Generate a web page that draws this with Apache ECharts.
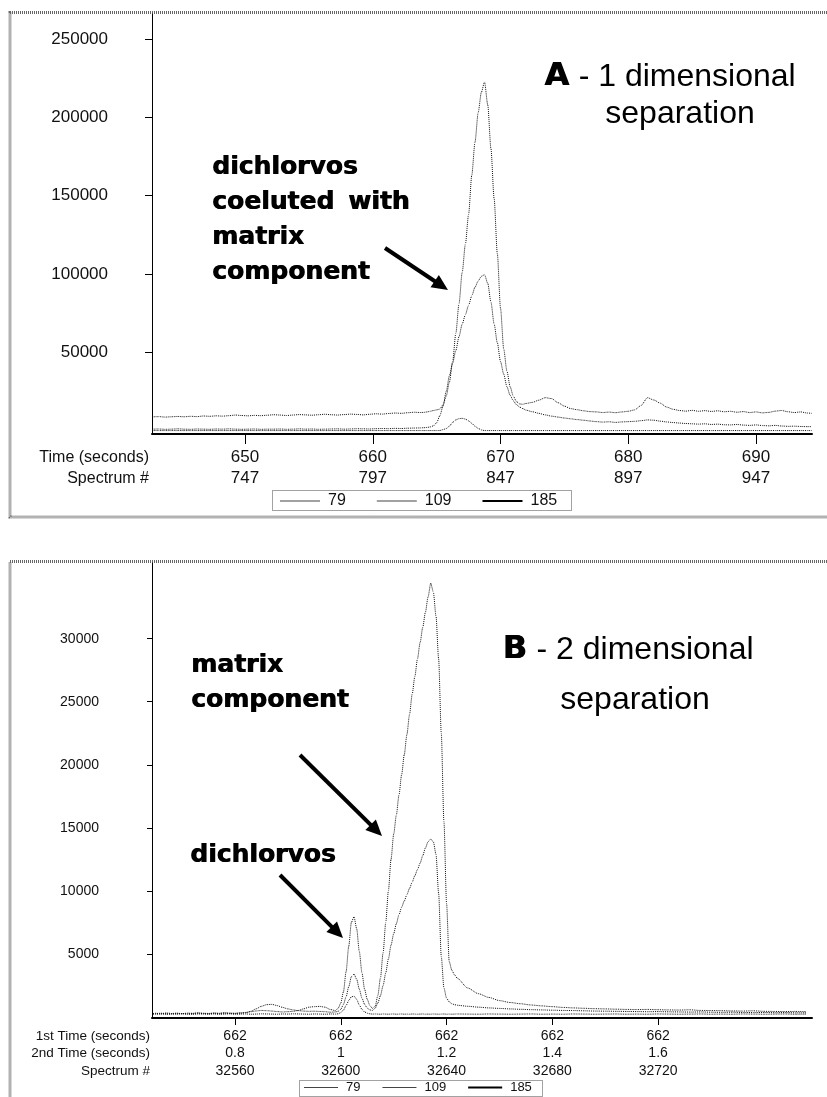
<!DOCTYPE html>
<html>
<head>
<meta charset="utf-8">
<script src="https://cdn.jsdelivr.net/npm/echarts@6/dist/echarts.min.js"></script>
<style>
  html, body { margin: 0; padding: 0; background: #fff; }
  #chart { width: 827px; height: 1097px; }
</style>
</head>
<body>
<div id="chart"></div>
<script>
// ---------- Panel A: 1 dimensional separation (ion chromatograms vs time) ----------
const seriesNames = ['79', '109', '185'];

const aTimeTicks = [650, 660, 670, 680, 690];
const aSpectrumTicks = [747, 797, 847, 897, 947];
const aIntensityTicks = [50000, 100000, 150000, 200000, 250000];

// retention time (s)
const aTime = [
  642.75, 643.25, 643.75, 644.25, 644.75, 645.25, 645.75, 646.25, 646.75, 647.25,
  647.75, 648.25, 648.75, 649.25, 649.75, 650.25, 650.75, 651.25, 651.75, 652.25,
  652.75, 653.25, 653.75, 654.25, 654.75, 655.25, 655.75, 656.25, 656.75, 657.25,
  657.75, 658.25, 658.75, 659.25, 659.75, 660.25, 660.75, 661.25, 661.75, 662.25,
  662.75, 663.25, 663.75,
  664.0, 664.25, 664.5, 664.75, 665.0, 665.25, 665.5, 665.75, 666.0, 666.25,
  666.5, 666.75, 667.0, 667.25, 667.5, 667.75, 668.0, 668.25, 668.5, 668.75,
  669.0, 669.25, 669.5, 669.75, 670.0, 670.25, 670.5, 670.75, 671.0, 671.25,
  671.5, 671.75, 672.0,
  672.5, 673.0, 673.5, 674.0, 674.5, 675.0, 675.5, 676.0, 676.5, 677.0,
  677.5, 678.0, 678.5, 679.0, 679.5, 680.0, 680.5, 681.0, 681.5, 682.0,
  682.5, 683.0, 683.5, 684.0, 684.5, 685.0, 685.5, 686.0, 686.5, 687.0,
  687.5, 688.0, 688.5, 689.0, 689.5, 690.0, 690.5, 691.0, 691.5, 692.0,
  692.5, 693.0, 693.5, 694.0, 694.35
];

const aIon109 = [
  8700, 8900, 8600, 8800, 9000, 8800, 9100, 8900, 9300, 9100,
  9400, 9200, 9500, 9900, 9600, 9400, 9700, 9500, 9800, 10100,
  9900, 9600, 9900, 10200, 10000, 9800, 10100, 10400, 10100, 9900,
  10200, 10500, 10300, 10000, 10400, 10700, 10500, 10900, 11200, 11000,
  11400, 11700, 11500,
  11600, 11900, 12300, 12800, 13200, 13700, 16500, 22000, 31000, 44000,
  62000, 81000, 101000, 119000, 138000, 163000, 184000, 203000, 216000, 222600,
  208000, 180000, 148000, 113000, 78000, 52000, 38000, 28000, 22000, 18500,
  17000, 16800, 17300,
  18000, 19400, 21000, 20400, 17800, 15600, 14000, 13300, 12600, 12100,
  11900, 11500, 11800, 11400, 11900, 12300, 13200, 16000, 21000, 19500,
  17500, 15000, 13600, 12800, 12400, 12900, 12300, 12700, 12200, 12600,
  12000, 12300, 11700, 12100, 11500, 11900, 11300, 11600, 12400, 12800,
  12000, 11500, 11900, 11200, 11000
];

const aIon79 = [
  900, 1000, 800, 900, 1100, 900, 800, 1000, 900, 800,
  1000, 900, 1100, 900, 800, 900, 1000, 800, 900, 900,
  1000, 800, 900, 1100, 900, 1000, 800, 900, 1000, 1100,
  900, 1000, 1200, 1100, 1000, 1200, 1300, 1200, 1400, 1300,
  1500, 1600, 1700,
  1800, 2000, 2300, 3000, 5000, 9500, 15600, 25000, 35000, 43000,
  51000, 60000, 68000, 74000, 80000, 86000, 91500, 95500, 98500, 99500,
  94000, 82000, 68000, 56000, 44000, 36000, 28000, 22500, 19000, 16500,
  15000, 14000, 13000,
  12000, 11000, 10000, 9200, 8600, 8000, 7500, 7000, 6600, 6100,
  5700, 5400, 5600, 5200, 5500, 5700, 5900, 6300, 6800, 6600,
  6000, 5500, 5100, 4800, 4500, 4300, 4100, 4300, 3900, 4100,
  3700, 3600, 3900, 3500, 3300, 3600, 3200, 3000, 3300, 2900,
  2700, 2800, 2600, 2500, 2500
];

const aIon185 = [
  0, 0, 0, 0, 0, 0, 0, 0, 0, 0,
  0, 0, 0, 0, 0, 0, 0, 0, 0, 0,
  0, 0, 0, 0, 0, 0, 0, 0, 0, 0,
  0, 0, 0, 0, 0, 0, 0, 0, 0, 0,
  0, 0, 0,
  0, 0, 0, 0, 0, 0, 600, 1300, 2800, 5200,
  6800, 7600, 7800, 7300, 6200, 4600, 2800, 1400, 400, 0,
  0, 0, 0, 0, 0, 0, 0, 0, 0, 0,
  0, 0, 0,
  0, 0, 0, 0, 0, 0, 0, 0, 0, 0,
  0, 0, 0, 0, 0, 0, 0, 0, 0, 0,
  0, 0, 0, 0, 0, 0, 0, 0, 0, 0,
  0, 0, 0, 0, 0, 0, 0, 0, 0, 0,
  0, 0, 0, 0, 0
];

// ---------- Panel B: 2 dimensional separation (vs 2nd dimension time) ----------
const bTime2Ticks = [0.8, 1.0, 1.2, 1.4, 1.6];
const bTime2Labels = ['0.8', '1', '1.2', '1.4', '1.6'];
const bTime1Labels = ['662', '662', '662', '662', '662'];
const bSpectrumTicks = [32560, 32600, 32640, 32680, 32720];
const bIntensityTicks = [5000, 10000, 15000, 20000, 25000, 30000];

// 2nd dimension time (s)
const bTime = [
  0.645,
  0.65, 0.66, 0.67, 0.68, 0.69, 0.70, 0.71, 0.72, 0.73, 0.74,
  0.75, 0.76, 0.77, 0.78, 0.79, 0.80, 0.81, 0.82, 0.83, 0.84,
  0.85, 0.86, 0.87, 0.88, 0.89, 0.90, 0.91, 0.92, 0.93, 0.94,
  0.95, 0.96, 0.97, 0.98, 0.99,
  0.995, 1.000, 1.005, 1.010, 1.015, 1.020, 1.025, 1.030, 1.035, 1.040,
  1.045, 1.050, 1.055, 1.060, 1.065, 1.070, 1.075, 1.080, 1.085, 1.090,
  1.095, 1.100, 1.105, 1.110, 1.115, 1.120, 1.125, 1.130, 1.135, 1.140,
  1.145, 1.150, 1.155, 1.160, 1.165, 1.170, 1.175, 1.180, 1.185, 1.190,
  1.195, 1.200, 1.205, 1.210, 1.215, 1.220,
  1.24, 1.26, 1.28, 1.30, 1.32, 1.34, 1.36, 1.38, 1.40, 1.42,
  1.44, 1.46, 1.48, 1.50, 1.52, 1.54, 1.56, 1.58, 1.60, 1.62,
  1.64, 1.66, 1.68, 1.70, 1.72, 1.74, 1.76, 1.78, 1.80, 1.82,
  1.84, 1.86, 1.88
];

const bIon109 = [
  250,
  300, 250, 320, 280, 300, 260, 310, 290, 330, 300,
  280, 320, 300, 340, 310, 300, 330, 360, 420, 480,
  520, 500, 470, 430, 400, 420, 450, 520, 650, 780,
  820, 840, 780, 600, 500,
  700, 1100, 2000, 3600, 5600, 7500, 7950, 7000, 5200, 3500,
  2200, 1400, 900, 680, 850, 1700, 3100, 5100, 7500, 10000,
  12500, 14500, 16000, 17600, 19200, 20800, 22400, 24000, 25600, 27000,
  28400, 29700, 30900, 32100, 33300, 34400, 33700, 31800, 28400, 22500,
  15500, 9000, 4400, 3700, 3350, 3080,
  2300, 1850, 1550, 1300, 1150, 1050, 950, 880, 820, 760,
  720, 690, 660, 640, 620, 600, 590, 600, 580, 560,
  550, 570, 520, 510, 500, 480, 470, 490, 450, 440,
  430, 440, 420
];

const bIon79 = [
  280,
  260, 300, 270, 250, 290, 270, 250, 280, 300, 270,
  260, 290, 270, 300, 280, 270, 300, 330, 450, 650,
  850, 980, 1000, 900, 760, 640, 560, 500, 470, 450,
  460, 440, 420, 380, 400,
  450, 600, 1000, 1600, 2400, 3200, 3400, 3000, 2200, 1500,
  1000, 700, 560, 520, 700, 1100, 1700, 2500, 3500, 4600,
  5700, 6600, 7400, 8100, 8700, 9200, 9700, 10200, 10700, 11200,
  11700, 12200, 12800, 13400, 13900, 14100, 13900, 12900, 9800, 4800,
  2300, 1500, 1200, 1050, 980, 930,
  850, 780, 720, 680, 640, 610, 580, 560, 540, 520,
  510, 490, 470, 460, 450, 440, 430, 420, 430, 410,
  400, 390, 400, 380, 370, 380, 360, 350, 360, 340,
  350, 330, 330
];

const bIon185 = [
  220,
  220, 240, 210, 230, 220, 250, 220, 210, 240, 230,
  220, 240, 210, 230, 250, 220, 230, 240, 220, 230,
  250, 240, 230, 220, 240, 230, 250, 240, 230, 220,
  240, 230, 220, 240, 230,
  250, 350, 550, 900, 1300, 1600, 1650, 1400, 950, 600,
  400, 300, 250, 230, 240, 230, 220, 240, 230, 220,
  230, 240, 220, 230, 240, 220, 230, 220, 240, 230,
  220, 230, 240, 220, 230, 220, 240, 230, 220, 230,
  240, 220, 230, 220, 230, 240,
  230, 220, 240, 230, 220, 230, 240, 220, 230, 220,
  240, 230, 220, 230, 240, 220, 230, 220, 240, 230,
  220, 230, 240, 220, 230, 220, 240, 230, 220, 230,
  240, 220, 230
];

// ---------- helpers ----------
const SANS = '"Liberation Sans", Arial, Helvetica, sans-serif';
const HEAVY = '"DejaVu Sans", "Liberation Sans", sans-serif';

function pairs(xs, ys) {
  const n = Math.min(xs.length, ys.length);
  const out = [];
  for (let i = 0; i < n; i++) out.push([xs[i], ys[i]]);
  return out;
}

function tickIndex(list, v) {
  return list.findIndex(t => Math.abs(t - v) < 1e-6);
}

const measureCtx = document.createElement('canvas').getContext('2d');
function textWidth(str, font) {
  measureCtx.font = font;
  return measureCtx.measureText(str).width;
}

const traceStyle = { color: '#111', width: 1, type: [1, 1] };

function trace(name, xs, ys, axis) {
  return {
    name: name,
    type: 'line',
    xAxisIndex: axis,
    yAxisIndex: axis,
    data: pairs(xs, ys),
    symbol: 'none',
    showSymbol: false,
    smooth: 0.25,
    smoothMonotone: 'x',
    lineStyle: traceStyle,
    itemStyle: { color: '#111' },
    emphasis: { disabled: true },
    silent: true
  };
}

function legendData(len) {
  return seriesNames.map(n => ({
    name: n,
    icon: n === '185' ? 'path://M0,0H' + len + 'V2H0Z' : 'path://M0,0H' + len + 'V1H0Z',
    itemStyle: { color: n === '185' ? '#000' : '#444', borderWidth: 0 }
  }));
}

function arrow(x1, y1, x2, y2) {
  const dx = x2 - x1, dy = y2 - y1, L = Math.hypot(dx, dy);
  const ux = dx / L, uy = dy / L, hl = 16, hw = 7.5;
  const bx = x2 - ux * hl, by = y2 - uy * hl;
  return [
    { type: 'line', silent: true, z: 20,
      shape: { x1: x1, y1: y1, x2: bx + ux * 2, y2: by + uy * 2 },
      style: { stroke: '#000', lineWidth: 4 } },
    { type: 'polygon', silent: true, z: 20,
      shape: { points: [[x2, y2], [bx - uy * hw, by + ux * hw], [bx + uy * hw, by - ux * hw]] },
      style: { fill: '#000' } }
  ];
}

function label(text, x, y, font, align, fill) {
  return {
    type: 'text', silent: true, z: 20,
    style: {
      text: text, x: x, y: y, font: font, fill: fill || '#000',
      textAlign: align || 'left', textVerticalAlign: 'middle',
      align: align || 'left', verticalAlign: 'middle'
    }
  };
}

// heavy black lettering: the same glyphs laid twice, a hair apart
function heavy(text, x, y, size) {
  const font = 'bold ' + (size || 25) + 'px ' + HEAVY;
  return [label(text, x, y, font), label(text, x + 0.8, y, font)];
}

function panelTitle(letter, rest, cx, y) {
  const restFont = '32px ' + SANS;
  const wl = textWidth(letter, 'bold 32px ' + HEAVY) + 0.8;
  const wr = textWidth(rest, restFont);
  const left = cx - (wl + wr) / 2;
  return heavy(letter, left, y, 32).concat([label(rest, left + wl, y, restFont)]);
}

const frameStyle = { fill: 'none', stroke: '#666', lineWidth: 3, lineDash: [1, 1] };
const legendBoxStyle = { fill: 'none', stroke: '#444', lineWidth: 1, lineDash: [1, 1] };
const plainNumber = v => String(v);

// ---------- chart ----------
const chart = echarts.init(document.getElementById('chart'), null, { renderer: 'canvas' });

const option = {
  animation: false,
  backgroundColor: '#fff',
  grid: [
    { left: 152, right: 15, top: 14, height: 420, containLabel: false, outerBoundsMode: 'none' },
    { left: 152, right: 15, top: 563, height: 455, containLabel: false, outerBoundsMode: 'none' }
  ],
  xAxis: [
    {
      type: 'value', gridIndex: 0, min: 642.72, max: 694.38,
      axisLine: { show: true, onZero: false, lineStyle: { color: '#000', width: 2 } },
      axisTick: { show: true, length: 10, customValues: aTimeTicks, lineStyle: { color: '#000', width: 1 } },
      axisLabel: {
        customValues: aTimeTicks, margin: 13, fontSize: 17, lineHeight: 21,
        fontFamily: SANS, color: '#111',
        formatter: v => {
          const i = tickIndex(aTimeTicks, v);
          return i < 0 ? '' : aTimeTicks[i] + '\n' + aSpectrumTicks[i];
        }
      },
      splitLine: { show: false }
    },
    {
      type: 'value', gridIndex: 1, min: 0.643, max: 1.891,
      axisLine: { show: true, onZero: false, lineStyle: { color: '#000', width: 2 } },
      axisTick: { show: true, length: 7, customValues: bTime2Ticks, lineStyle: { color: '#000', width: 1 } },
      axisLabel: {
        customValues: bTime2Ticks, margin: 9, fontSize: 14, lineHeight: 17.5,
        fontFamily: SANS, color: '#111',
        formatter: v => {
          const i = tickIndex(bTime2Ticks, v);
          return i < 0 ? '' : bTime1Labels[i] + '\n' + bTime2Labels[i] + '\n' + bSpectrumTicks[i];
        }
      },
      splitLine: { show: false }
    }
  ],
  yAxis: [
    {
      type: 'value', gridIndex: 0, min: -2200, max: 266000,
      axisLine: { show: true, onZero: false, lineStyle: { color: '#000', width: 1 } },
      axisTick: { show: true, length: 7, customValues: aIntensityTicks, lineStyle: { color: '#000', width: 1 } },
      axisLabel: { customValues: aIntensityTicks, margin: 44, fontSize: 17, fontFamily: SANS, color: '#111', formatter: plainNumber },
      splitLine: { show: false }
    },
    {
      type: 'value', gridIndex: 1, min: -80, max: 36000,
      axisLine: { show: true, onZero: false, lineStyle: { color: '#000', width: 1 } },
      axisTick: { show: true, length: 5, customValues: bIntensityTicks, lineStyle: { color: '#000', width: 1 } },
      axisLabel: { customValues: bIntensityTicks, margin: 53, fontSize: 14, fontFamily: SANS, color: '#111', formatter: plainNumber },
      splitLine: { show: false }
    }
  ],
  legend: [
    {
      left: 280, top: 493, padding: 0, itemWidth: 40, itemHeight: 14, itemGap: 31,
      symbolKeepAspect: true, selectedMode: false,
      data: legendData(40),
      textStyle: { fontSize: 16, fontFamily: SANS, color: '#111', padding: [0, 0, 0, 3] }
    },
    {
      left: 304, top: 1081, padding: 0, itemWidth: 34, itemHeight: 14, itemGap: 22,
      symbolKeepAspect: true, selectedMode: false,
      data: legendData(34),
      textStyle: { fontSize: 13, fontFamily: SANS, color: '#111', padding: [0, 0, 0, 3] }
    }
  ],
  series: [
    trace('79', aTime, aIon79, 0),
    trace('109', aTime, aIon109, 0),
    trace('185', aTime, aIon185, 0),
    trace('79', bTime, bIon79, 1),
    trace('109', bTime, bIon109, 1),
    trace('185', bTime, bIon185, 1)
  ],
  graphic: {
    elements: [
      // panel frames
      { type: 'rect', silent: true, z: 0, shape: { x: 10, y: 12.5, width: 840, height: 504.5 }, style: frameStyle },
      { type: 'rect', silent: true, z: 0, shape: { x: 10, y: 561.5, width: 840, height: 560 }, style: frameStyle },
      // legend boxes
      { type: 'rect', silent: true, z: 0, shape: { x: 272.5, y: 490.5, width: 299, height: 20 }, style: legendBoxStyle },
      { type: 'rect', silent: true, z: 0, shape: { x: 299.5, y: 1080.5, width: 243, height: 16 }, style: legendBoxStyle },
      // axis row headings
      label('Time (seconds)', 149, 458, '16px ' + SANS, 'right', '#111'),
      label('Spectrum #', 149, 479, '16px ' + SANS, 'right', '#111'),
      label('1st Time (seconds)', 150, 1036, '13.5px ' + SANS, 'right', '#111'),
      label('2nd Time (seconds)', 150, 1053.5, '13.5px ' + SANS, 'right', '#111'),
      label('Spectrum #', 150, 1071, '13.5px ' + SANS, 'right', '#111'),
      // panel A notes
      ...panelTitle('A', ' - 1 dimensional', 670, 77),
      label('separation', 680, 114, '32px ' + SANS, 'center'),
      ...heavy('dichlorvos', 212, 167),
      ...heavy('coeluted', 212, 202),
      ...heavy('with', 348, 202),
      ...heavy('matrix', 212, 237),
      ...heavy('component', 212, 272),
      ...arrow(385, 248, 448, 290),
      // panel B notes
      ...panelTitle('B', ' - 2 dimensional', 628, 650),
      label('separation', 635, 700, '32px ' + SANS, 'center'),
      ...heavy('matrix', 191, 665),
      ...heavy('component', 191, 700),
      ...arrow(300, 755, 382, 836),
      ...heavy('dichlorvos', 190, 855),
      ...arrow(280, 875, 343, 938)
    ]
  }
};

chart.setOption(option);
</script>
</body>
</html>
